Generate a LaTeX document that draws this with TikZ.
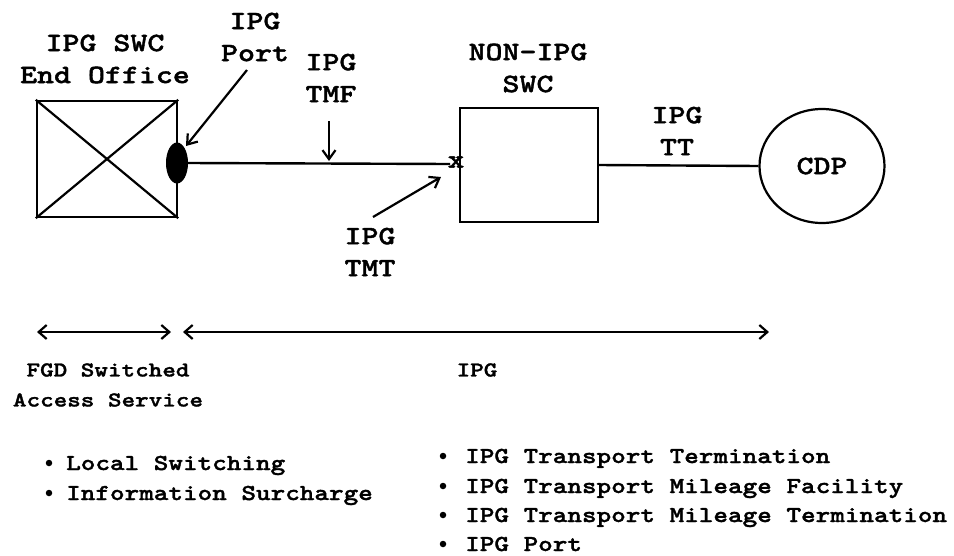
\documentclass[tikz,border=0pt]{standalone}
\usepackage{fontspec}
\newfontfamily\cour[FakeStretch=1.22,FakeBold=1.5]{lmmonolt10-bold.otf}
\usetikzlibrary{shapes.geometric,arrows.meta}
\begin{document}
\begin{tikzpicture}[x=1pt,y=-1pt,
  lab/.style={align=center,inner sep=0pt,font=\cour\fontsize{26.5}{32}\selectfont},
  smalltxt/.style={inner sep=0pt,anchor=base west,font=\cour\fontsize{22.8}{29}\selectfont},
  dot/.style={circle,fill=black,inner sep=0pt,minimum size=6.5pt},
  boxn/.style={draw,line width=2.4pt,inner sep=0pt},
  wire/.style={line width=2.4pt},
  pointer/.style={line width=2.2pt,-{Straight Barb[length=9pt,width=13pt,line width=2.2pt]}},
  spanarrow/.style={line width=2.2pt,{Straight Barb[length=8pt,width=14pt,line width=2.2pt]}-{Straight Barb[length=8pt,width=14pt,line width=2.2pt]}}
]
\useasboundingbox (0,0) rectangle (954,555);
\fill[white] (0,0) rectangle (954,555);

% main elements
\node[boxn,minimum width=140pt,minimum height=116pt] (eo) at (107,159) {};
\draw[line width=2.2pt] (eo.north west) -- (eo.south east);
\draw[line width=2.2pt] (eo.south west) -- (eo.north east);
\node[ellipse,fill=black,inner sep=0pt,minimum width=22pt,minimum height=41pt] (port) at (177,163) {};
\node[boxn,minimum width=138pt,minimum height=114pt] (sw) at (529,165) {};
\node[ellipse,draw,line width=2.2pt,inner sep=0pt,minimum width=125pt,minimum height=114pt] (cdp) at (822,166) {\cour\fontsize{26.5}{32}\selectfont CDP};
\node[inner sep=0pt,font=\cour\fontsize{26}{26}\selectfont] (xm) at (456,162) {x};
\coordinate (xin) at (450,164);
\draw[wire] (port.east) -- (xin);
\draw[wire] (sw.east) -- (cdp.west);

% labels
\node[lab] (eol) at (105,59) {IPG SWC\\End Office};
\node[lab] (portl) at (255,37) {IPG\\Port};
\node[lab] (tmfl) at (331,78) {IPG\\TMF};
\node[lab] (swl) at (528,68) {NON-IPG\\SWC};
\node[lab] (ttl) at (677,131) {IPG\\TT};
\node[lab] (tmtl) at (370,252) {IPG\\TMT};

% pointers
\coordinate (pa) at (247,70);
\coordinate (pb) at (186,146);
\draw[pointer] (pa) -- (pb);
\coordinate (ta) at (329,121);
\coordinate (tb) at (329,161);
\draw[pointer] (ta) -- (tb);
\coordinate (ma) at (373,217);
\coordinate (mb) at (441,177);
\draw[pointer] (ma) -- (mb);

% ranges
\coordinate (r1a) at (37,332);
\coordinate (r1b) at (171,332);
\draw[spanarrow] (r1a) -- (r1b);
\coordinate (r2a) at (183,332);
\coordinate (r2b) at (769,332);
\draw[spanarrow] (r2a) -- (r2b);

\node[align=center,inner sep=0pt,font=\cour\fontsize{21.2}{30}\selectfont] (fgd) at (108,385) {FGD Switched\\Access Service};
\node[inner sep=0pt,font=\cour\fontsize{21.2}{30}\selectfont] (ipg) at (477,370) {IPG};

% bullet lists
\node[dot] (b1) at (49,463) {};
\node[smalltxt] (l1) at (66,470) {Local Switching};
\node[dot] (b2) at (49,493) {};
\node[smalltxt] (l2) at (66,500) {Information Surcharge};
\node[dot] (b3) at (443,456) {};
\node[smalltxt] (q1) at (465,463) {IPG Transport Termination};
\node[dot] (b4) at (443,486) {};
\node[smalltxt] (q2) at (465,493) {IPG Transport Mileage Facility};
\node[dot] (b5) at (443,515) {};
\node[smalltxt] (q3) at (465,522) {IPG Transport Mileage Termination};
\node[dot] (b6) at (443,544) {};
\node[smalltxt] (q4) at (465,551) {IPG Port};
\end{tikzpicture}
\end{document}
